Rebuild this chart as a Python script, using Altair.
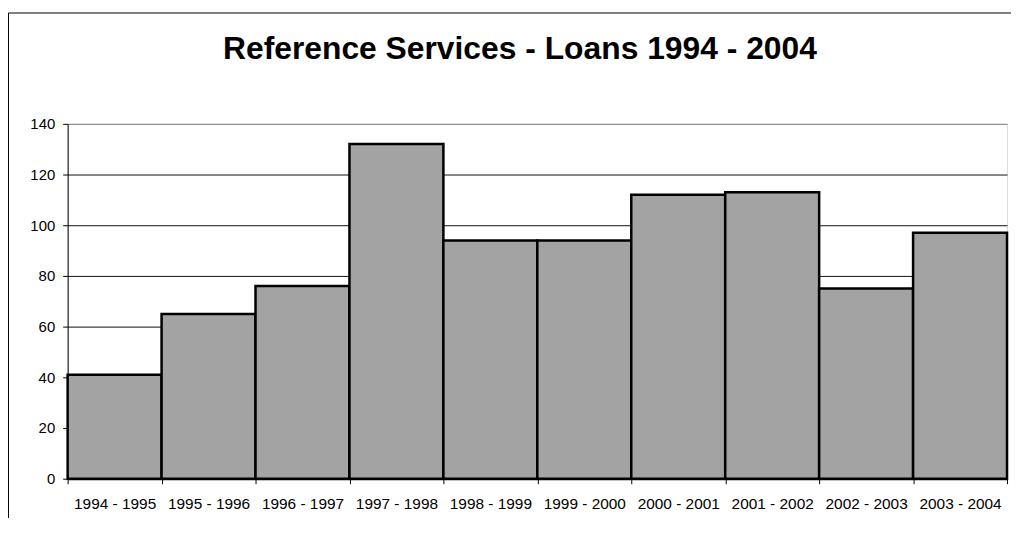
import altair as alt
import pandas as pd

periods = ["1994 - 1995", "1995 - 1996", "1996 - 1997", "1997 - 1998", "1998 - 1999",
           "1999 - 2000", "2000 - 2001", "2001 - 2002", "2002 - 2003", "2003 - 2004"]
loans = [41, 65, 76, 132, 94, 94, 112, 113, 75, 97]
y_ticks = [0, 20, 40, 60, 80, 100, 120, 140]
title_text = "Reference Services - Loans 1994 - 2004"

df = pd.DataFrame({"period": periods, "loans": loans})

FONT = "Liberation Sans"

bars = alt.Chart(df).mark_bar(
    fill="#A3A3A3", stroke="#000000", strokeWidth=2.5
).encode(
    x=alt.X("period:N", sort=None,
            scale=alt.Scale(paddingInner=0, paddingOuter=0),
            axis=alt.Axis(title=None, labelAngle=0, tickBand="extent",
                          labelFont=FONT, labelFontSize=15.5, labelColor="#000000",
                          labelPadding=13, tickSize=5, tickColor="#000000",
                          domainColor="#000000", domainWidth=2, grid=False)),
    y=alt.Y("loans:Q",
            scale=alt.Scale(domain=[0, 140], nice=False),
            axis=alt.Axis(title=None, values=y_ticks, labelFont=FONT, labelFontSize=15,
                          labelColor="#000000", labelPadding=8, tickSize=5,
                          tickColor="#000000", domainColor="#000000",
                          grid=True,
                          gridColor=alt.condition(alt.datum.value >= 140,
                                                  alt.value("#808080"),
                                                  alt.value("#111111")),
                          gridWidth=1)),
)

frame_df = pd.DataFrame({"k": [0]})
frame_left = alt.Chart(frame_df).mark_rule(color="#000000", strokeWidth=1).encode(
    x=alt.value(-59.5), y=alt.value(-111.5), y2=alt.value(460)
)
frame_top = alt.Chart(frame_df).mark_rule(color="#000000", strokeWidth=1).encode(
    x=alt.value(-59.5), x2=alt.value(1000), y=alt.value(-111.5)
)

chart = alt.layer(frame_left, frame_top, bars).properties(
    width=945, height=357,
    autosize=alt.AutoSizeParams(type="none"),
    padding={"left": 60, "top": 115, "right": 4, "bottom": 38},
    title=alt.TitleParams(title_text, font=FONT, fontSize=32, fontWeight="bold",
                          color="#000000", anchor="middle", dx=-17.5,
                          baseline="bottom", offset=-85.5),
).configure_view(
    fill="#C0C0C0", stroke="#808080", strokeWidth=1
).configure(background="#FFFFFF")

chart.save("out.html", embed_options={"renderer": "svg", "actions": False})
